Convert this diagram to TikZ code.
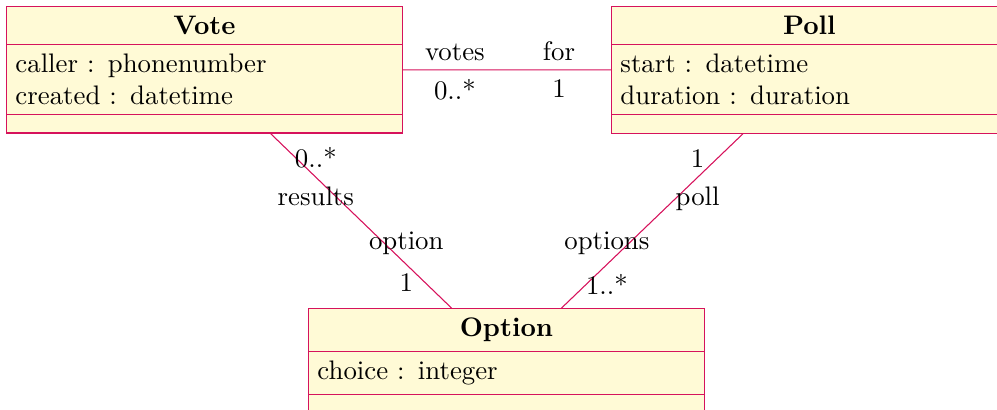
\documentclass[tikz,border=0pt]{standalone}
\usetikzlibrary{shapes.multipart}

\begin{document}
\begin{tikzpicture}

\definecolor{umlline}{rgb}{0.84,0.07,0.36}
\definecolor{umlfill}{rgb}{1.0,0.98,0.84}

\tikzset{umlclass/.style={rectangle split, rectangle split parts=3, draw=umlline, fill=umlfill,
    text width=141pt, align=left, anchor=north west}}
\tikzset{assoc/.style={draw=umlline}}

\useasboundingbox (0,0) rectangle (13.074,-5.376);

% classes
\node[umlclass] (vote) at (0.079,-0.079) {\hfill\textbf{Vote}\hfill\null
    \nodepart{second}caller : phonenumber\\created : datetime
    \nodepart{third}};
\node[umlclass] (poll) at (8.012,-0.079) {\hfill\textbf{Poll}\hfill\null
    \nodepart{second}start : datetime\\duration : duration
    \nodepart{third}};
\node[umlclass] (option) at (4.039,-4.04) {\hfill\textbf{Option}\hfill\null
    \nodepart{second}choice : integer
    \nodepart{third}};

% associations
\draw[assoc] (vote) -- node[near start, above] {votes} node[near start, below] {0..*}
    node[near end, above] {for} node[near end, below] {1} (poll);
\draw[assoc] (vote) -- node[near start, above] {0..*} node[near start, below] {results}
    node[near end, above] {option} node[near end, below] {1} (option);
\draw[assoc] (poll) -- node[near start, above] {1} node[near start, below] {poll}
    node[near end, above] {options} node[near end, below] {1..*} (option);

\end{tikzpicture}
\end{document}
